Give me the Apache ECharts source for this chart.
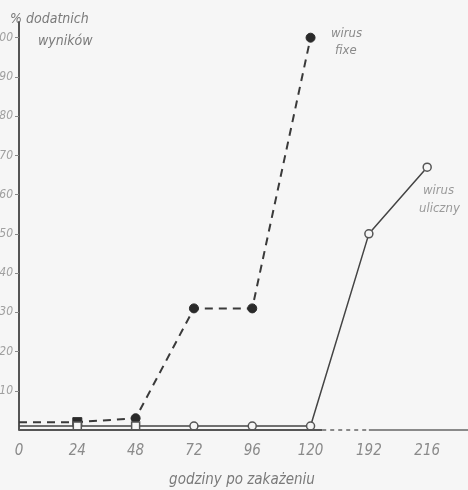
<!DOCTYPE html>
<html><head><meta charset="utf-8">
<script src="https://cdn.jsdelivr.net/npm/echarts@6/dist/echarts.min.js"></script>
<style>html,body{margin:0;padding:0;background:#f6f6f6}#c{width:468px;height:490px}</style>
</head><body><div id="c"></div>
<script>
const hours = ['0','24','48','72','96','120','192','216'];
const yTicks = [10,20,30,40,50,60,70,80,90,100];
const virusFixe = [2, 2, 3, 31, 31, 100];
const virusUliczny = [1, 1, 1, 1, 1, 1, 50, 67];
const fixeSymbols = ['none','rect','circle','circle','circle','circle'];
const ulicznySymbols = ['none','rect','rect','circle','circle','circle','circle','circle'];

const font = "'DejaVu Sans Condensed','DejaVu Sans',sans-serif";
const chart = echarts.init(document.getElementById('c'), null, {renderer:'canvas'});
chart.setOption({
  backgroundColor:'#f6f6f6',
  animation:false,
  grid:{left:19,right:0,top:22,bottom:60,containLabel:false,outerBoundsMode:'none'},
  xAxis:{type:'value',min:0,max:7.7,interval:1,
    axisLine:{show:false},axisTick:{show:false},splitLine:{show:false},
    axisLabel:{customValues:[0,1,2,3,4,5,6,7],formatter:v=>hours[v]||'',color:'#8a8a8a',
      fontStyle:'italic',fontFamily:font,fontSize:15,margin:14}},
  yAxis:{type:'value',min:0,max:104,interval:10,
    axisLine:{show:true,lineStyle:{color:'#555',width:2}},
    axisTick:{show:true,customValues:yTicks,length:4,lineStyle:{color:'#888',width:1}},
    splitLine:{show:false},
    axisLabel:{customValues:yTicks,color:'#a0a0a0',fontStyle:'italic',fontFamily:font,fontSize:12,margin:6}},
  series:[
    {type:'line',data:virusFixe.map((v,i)=>({value:[i,v],symbol:fixeSymbols[i]})),
      symbolSize:9,lineStyle:{color:'#3a3a3a',width:2,type:[8,6]},
      itemStyle:{color:'#2a2a2a',borderColor:'#2a2a2a'},z:3},
    {type:'line',data:virusUliczny.map((v,i)=>({value:[i,v],symbol:ulicznySymbols[i]})),
      symbolSize:8,lineStyle:{color:'#444',width:1.5},
      itemStyle:{color:'#f6f6f6',borderColor:'#555',borderWidth:1.5},z:4,
      markLine:{silent:true,symbol:'none',label:{show:false},
        data:[
          [{coord:[0,0],lineStyle:{color:'#555',width:2,type:'solid'}},{coord:[5.2,0]}],
          [{coord:[5.2,0],lineStyle:{color:'#666',width:1.5,type:[4,4]}},{coord:[6,0]}],
          [{coord:[6,0],lineStyle:{color:'#666',width:1.5,type:'solid'}},{coord:[7.7,0]}]
        ]}}
  ],
  graphic:[
    {type:'text',left:10,top:12,style:{text:'% dodatnich',fill:'#7a7a7a',font:'italic 14px '+font}},
    {type:'text',left:38,top:34,style:{text:'wyników',fill:'#7a7a7a',font:'italic 14px '+font}},
    {type:'text',left:331,top:27,style:{text:'wirus',fill:'#8a8a8a',font:'italic 13px '+font}},
    {type:'text',left:335,top:44,style:{text:'fixe',fill:'#8a8a8a',font:'italic 13px '+font}},
    {type:'text',left:423,top:184,style:{text:'wirus',fill:'#9a9a9a',font:'italic 13px '+font}},
    {type:'text',left:419,top:202,style:{text:'uliczny',fill:'#9a9a9a',font:'italic 13px '+font}},
    {type:'text',x:242,y:480,style:{text:'godziny po zakażeniu',fill:'#7a7a7a',font:'italic 15px '+font,textAlign:'center',textVerticalAlign:'middle'}}
  ]
});
</script></body></html>
